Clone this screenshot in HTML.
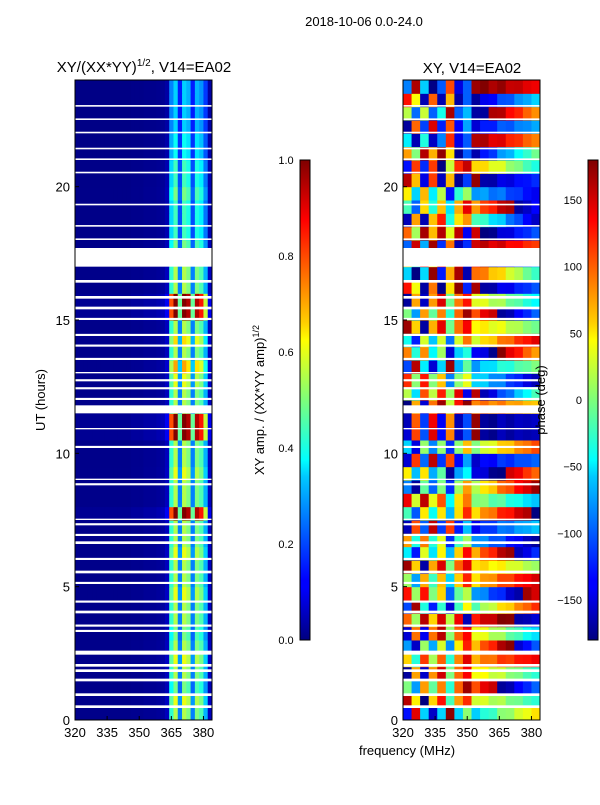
<!DOCTYPE html>
<html><head><meta charset="utf-8">
<style>
body{margin:0;background:#fff;font-family:"Liberation Sans","DejaVu Sans",sans-serif;}
svg text{font-family:"Liberation Sans","DejaVu Sans",sans-serif;}
</style></head>
<body>
<svg id="fig" width="600" height="800" xmlns="http://www.w3.org/2000/svg">
<rect width="600" height="800" fill="#fff"/>
<defs>
<linearGradient id="jet" x1="0" y1="1" x2="0" y2="0">
<stop offset="0" stop-color="#00007f"/><stop offset="0.11" stop-color="#0000ff"/>
<stop offset="0.125" stop-color="#0000ff"/><stop offset="0.34" stop-color="#00c8ff"/>
<stop offset="0.375" stop-color="#00ffff"/><stop offset="0.5" stop-color="#7dff7a"/>
<stop offset="0.625" stop-color="#ffff00"/><stop offset="0.66" stop-color="#ffd000"/>
<stop offset="0.875" stop-color="#ff0000"/><stop offset="1" stop-color="#7f0000"/>
</linearGradient>
</defs>
<text x="364" y="26" font-size="13" text-anchor="middle">2018-10-06 0.0-24.0</text>
<text x="144" y="72" font-size="15" text-anchor="middle">XY/(XX*YY)<tspan font-size="10" dy="-6">1/2</tspan><tspan dy="6">, V14=EA02</tspan></text>
<text x="472" y="73" font-size="15" text-anchor="middle">XY, V14=EA02</text>
<g id="left"></g>
<g id="right"></g>
<g id="gapsL"></g>
<g id="gapsR"></g>
<rect x="75" y="80" width="137" height="640" fill="none" stroke="#000" stroke-width="1"/>
<rect x="403" y="80" width="137" height="640" fill="none" stroke="#000" stroke-width="1"/>
<g id="axes" font-size="13"></g>
<rect x="300" y="160" width="10" height="480" fill="url(#jet)" stroke="#000" stroke-width="1"/>
<rect x="588" y="160" width="10" height="480" fill="url(#jet)" stroke="#000" stroke-width="1"/>
<g id="cbaxes" font-size="11"></g>
<text transform="translate(45,400) rotate(-90)" font-size="13" text-anchor="middle">UT (hours)</text>
<text transform="translate(264,400) rotate(-90)" font-size="13" text-anchor="middle">XY amp. / (XX*YY amp)<tspan font-size="9" dy="-5">1/2</tspan></text>
<text transform="translate(545,400) rotate(-90)" font-size="13" text-anchor="middle">phase (deg)</text>
<text x="407" y="755" font-size="13" text-anchor="middle">frequency (MHz)</text>
</svg>
<script>
// ---- data ----
const freqEdges = [320,322,324,326,328,330,332,334,336,338,340,342,344,346,348,350,352,354,356,358,360,362,364,366,368,370,372,374,376,378,380,382,384];
const ampChanProfile = [0.01,0.01,0.01,0.01,0.01,0.01,0.01,0.01,0.01,0.01,0.01,0.01,0.01,0.015,0.015,0.015,0.02,0.02,0.02,0.025,0.03,0.06,0.42,0.55,0.25,0.55,0.5,0.25,0.5,0.45,0.3,0.06];
const ampRowScale = [1.0,1.1,0.9,1.0,1.1,1.0,0.9,1.0,1.0,1.1,1.0,1.0,1.1,1.0,1.0,1.9,1.0,1.0,1.1,1.0,1.0,1.9,1.9,1.0,1.0,1.1,1.3,1.0,1.2,1.0,1.9,1.9,1.0,1.0,1.0,0.9,0.8,0.8,0.8,0.9,0.8,0.8,0.7,0.7,0.6,0.6,0.6,0.6];
const phaseRowBase = [-170,120,-40,150,20,-120,170,60,-150,90,-30,130,-90,40,160,-60,100,-130,10,170,-100,170,160,140,-20,80,-150,50,-80,130,-40,150,90,-100,20,-140,60,160,-60,10,120,-170,40,-90,150,-20,90,-130];
const phaseRowSlope = [15,-10,20,-12,8,25,-15,10,18,-20,12,-8,22,-14,9,16,-11,20,-18,6,14,2,3,-5,24,-16,10,-22,15,-9,20,-13,11,-19,17,-7,13,-21,19,-10,8,-15,21,-12,9,-17,14,-6];
const phaseChanJitter = [40,-60,80,-30,50,-90,20,70,-40,10,-20,30,-10,15,-5,0];
const flagHours = [[0.45,0.55],[0.9,1.0],[1.45,1.55],[1.8,1.9],[2.0,2.1],[2.45,2.6],[3.3,3.38],[3.5,3.58],[4.0,4.1],[4.4,4.48],[5.1,5.18],[5.5,5.6],[6.0,6.08],[6.6,6.7],[6.9,6.98],[7.3,7.38],[7.5,7.55],[8.8,8.88],[9.0,9.05],[10.2,10.28],[10.9,10.95],[11.5,11.8],[12.0,12.08],[12.4,12.48],[12.7,12.78],[13.0,13.05],[13.5,13.58],[14.0,14.08],[14.4,14.48],[15.0,15.08],[15.4,15.5],[15.8,15.9],[16.4,16.5],[17.0,17.7],[18.0,18.06],[18.5,18.56],[19.3,19.36],[20.5,20.56],[21.0,21.06],[21.4,21.46],[22.0,22.06],[22.5,22.56],[23.0,23.06]];
const yTicks = [0,5,10,15,20];
const xTicks = [320,335,350,365,380];
const ampCbTicks = [0.0,0.2,0.4,0.6,0.8,1.0];
const phaseCbTicks = [-150,-100,-50,0,50,100,150];

// ---- scales ----
const NS='http://www.w3.org/2000/svg';
function xL(f){return 75+(f-320)*137/64;}
function xR(f){return 403+(f-320)*137/64;}
function yS(h){return 720-h*640/24;}
function jet(v){v=Math.max(0,Math.min(1,v));
 const r=Math.max(0,Math.min(1,1.5-Math.abs(4*v-3))),g=Math.max(0,Math.min(1,1.5-Math.abs(4*v-2))),b=Math.max(0,Math.min(1,1.5-Math.abs(4*v-1)));
 return 'rgb('+Math.round(r*255)+','+Math.round(g*255)+','+Math.round(b*255)+')';}
function mk(tag,attrs,parent){const e=document.createElementNS(NS,tag);for(const k in attrs)e.setAttribute(k,attrs[k]);parent.appendChild(e);return e;}

const L=document.getElementById('left'),R=document.getElementById('right');
const nRows=ampRowScale.length, dh=24/nRows;
for(let r=0;r<nRows;r++){
 const y0=yS((r+1)*dh), y1=yS(r*dh);
 for(let c=0;c<ampChanProfile.length;c++){
  const v=ampChanProfile[c]*ampRowScale[r];
  const e=mk('rect',{x:xL(freqEdges[c]),y:y0,width:xL(freqEdges[c+1])-xL(freqEdges[c])+0.5,height:y1-y0+0.5,fill:jet(v)},L);
  
  
 }
 for(let c=0;c<phaseChanJitter.length;c++){
  let p=phaseRowBase[r]+phaseRowSlope[r]*c+phaseChanJitter[c]*(c<8?1:0.3);
  p=((p+180)%360+360)%360-180;
  const f0=320+c*4,f1=f0+4;
  const e=mk('rect',{x:xR(f0),y:y0,width:xR(f1)-xR(f0)+0.5,height:y1-y0+0.5,fill:jet((p+180)/360)},R);
  
  
 }
}
const GL=document.getElementById('gapsL'),GR=document.getElementById('gapsR');
flagHours.forEach(g=>{
 const a=mk('rect',{x:75,y:yS(g[1]),width:137,height:yS(g[0])-yS(g[1]),fill:'#fff'},GL);
 
 
 const b=mk('rect',{x:403,y:yS(g[1]),width:137,height:yS(g[0])-yS(g[1]),fill:'#fff'},GR);
 
 
});
const AX=document.getElementById('axes');
yTicks.forEach(t=>{
 [75,403].forEach(x0=>{
  const l=mk('line',{x1:x0,x2:x0+4,y1:yS(t),y2:yS(t),stroke:'#000'},AX);
  
  
  const tx=mk('text',{x:x0-5,y:yS(t)+5,'text-anchor':'end'},AX);tx.textContent=t;
  
  
 });
});
xTicks.forEach(t=>{
 [xL,xR].forEach(fx=>{
  const l=mk('line',{x1:fx(t),x2:fx(t),y1:720,y2:716,stroke:'#000'},AX);
  
  
  const tx=mk('text',{x:fx(t),y:737,'text-anchor':'middle'},AX);tx.textContent=t;
  
  
 });
});
const CB=document.getElementById('cbaxes');
ampCbTicks.forEach(t=>{
 const y=640-t*480;
 const tx=mk('text',{x:286,y:y+4,'text-anchor':'middle'},CB);tx.textContent=t.toFixed(1);
 
 
});
phaseCbTicks.forEach(t=>{
 const y=400-t*480/360;
 const tx=mk('text',{x:582,y:y+4,'text-anchor':'end'},CB);tx.textContent=t<0?'\u2212'+(-t):t;
 
 
});
</script>
</body></html>
